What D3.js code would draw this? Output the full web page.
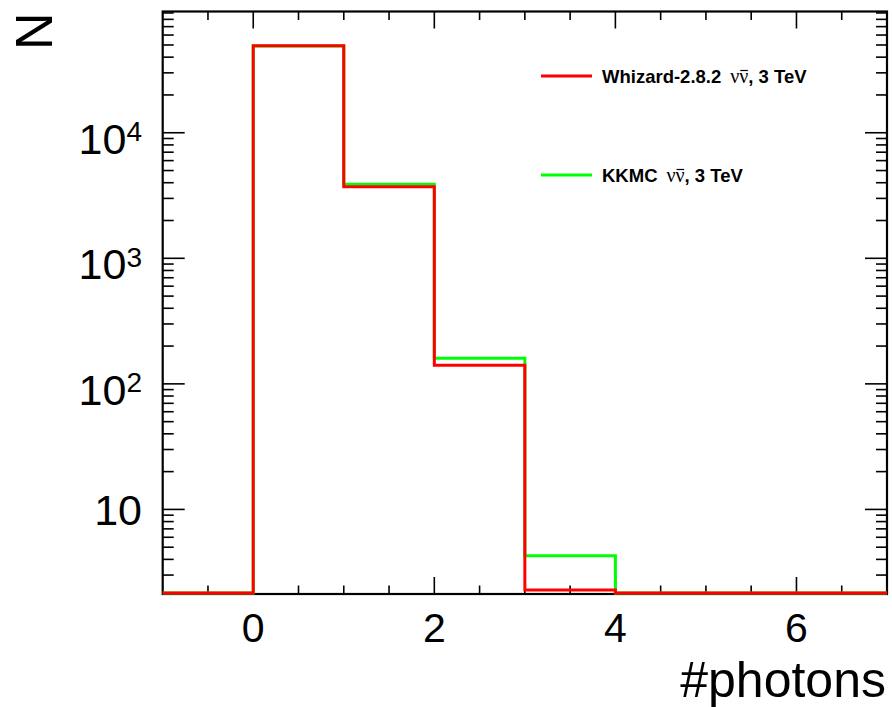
<!DOCTYPE html>
<html>
<head>
<meta charset="utf-8">
<script src="https://cdn.jsdelivr.net/npm/d3@7"></script>
<style>
  html, body { margin: 0; padding: 0; background: #fff; }
  svg { display: block; }
</style>
</head>
<body>
<svg id="chart" width="892" height="707"></svg>
<script>
// Photon multiplicity histograms (bin edges and contents per generator)
const binEdges = [-1, 0, 1, 2, 3, 4, 5, 6, 7];
const whizardCounts = [0, 49300, 3715, 141, 2.28, 0, 0, 0];
const kkmcCounts = [0, 49100, 3882, 160, 4.27, 0, 0, 0];

const xMajorTicks = [0, 2, 4, 6];
const xTickLabels = ["0", "2", "4", "6"];
const yMajorTicks = [10, 100, 1000, 10000];
const yTickBases = ["10", "10", "10", "10"];
const yTickExponents = ["", "2", "3", "4"];

const xDomain = [-1, 7];
const yDomain = [2.12, 92400];

const seriesNames = ["Whizard-2.8.2", "KKMC"];
const seriesColors = ["#ff0000", "#00ff00"];

const frame = { left: 162.7, right: 887, top: 11.5, bottom: 594 };
const font = "'Liberation Sans', Arial, Helvetica, sans-serif";

const svg = d3.select("#chart");

const x = d3.scaleLinear().domain(xDomain).range([frame.left, frame.right]);
const y = d3.scaleLog().domain(yDomain).range([frame.bottom, frame.top]);

// minor tick positions
const xMinor = d3.range(-1, 7.001, 0.5).filter(v => !xMajorTicks.includes(v) && v > xDomain[0] && v < xDomain[1]);
const yMinor = [];
[1, 10, 100, 1000, 10000].forEach(d => {
  for (let k = 2; k <= 9; k++) {
    const v = d * k;
    if (v > yDomain[0] && v < yDomain[1]) yMinor.push(v);
  }
});

const g = svg.append("g");

// tick marks on all four sides, pointing inwards
const tickColor = "#000";
function vTick(xv, len, fromBottom) {
  const px = x(xv);
  g.append("line")
    .attr("x1", px).attr("x2", px)
    .attr("y1", fromBottom ? frame.bottom : frame.top)
    .attr("y2", fromBottom ? frame.bottom - len : frame.top + len)
    .attr("stroke", tickColor).attr("stroke-width", 1.6);
}
function hTick(yv, len, fromLeft) {
  const py = y(yv);
  g.append("line")
    .attr("y1", py).attr("y2", py)
    .attr("x1", fromLeft ? frame.left : frame.right)
    .attr("x2", fromLeft ? frame.left + len : frame.right - len)
    .attr("stroke", tickColor).attr("stroke-width", 1.6);
}
xMajorTicks.forEach(v => { vTick(v, 17, true); vTick(v, 17, false); });
xMinor.forEach(v => { vTick(v, 8.5, true); vTick(v, 8.5, false); });
yMajorTicks.forEach(v => { hTick(v, 22, true); hTick(v, 22, false); });
yMinor.forEach(v => { hTick(v, 11, true); hTick(v, 11, false); });

// frame
g.append("rect")
  .attr("x", frame.left).attr("y", frame.top)
  .attr("width", frame.right - frame.left)
  .attr("height", frame.bottom - frame.top)
  .attr("fill", "none").attr("stroke", "#000").attr("stroke-width", 2.2);

// x tick labels
g.selectAll("text.xlab").data(xMajorTicks).enter().append("text")
  .attr("class", "xlab")
  .attr("x", d => x(d))
  .attr("y", 642)
  .attr("text-anchor", "middle")
  .attr("font-family", font).attr("font-size", 41)
  .text((d, i) => xTickLabels[i]);

// y tick labels (powers of ten)
yMajorTicks.forEach((v, i) => {
  const py = y(v);
  const t = g.append("text")
    .attr("x", 142)
    .attr("text-anchor", "end")
    .attr("font-family", font);
  if (yTickExponents[i] === "") {
    t.attr("y", py + 16).attr("font-size", 43).text(yTickBases[i]);
  } else {
    t.attr("y", py + 21);
    t.append("tspan").attr("font-size", 43).text(yTickBases[i]);
    t.append("tspan").attr("font-size", 28).attr("dy", -12.5).text(yTickExponents[i]);
  }
});

// axis titles
g.append("text")
  .attr("x", 886).attr("y", 697)
  .attr("text-anchor", "end")
  .attr("font-family", font).attr("font-size", 50)
  .text("#photons");

g.append("text")
  .attr("transform", "translate(51.5,12.5) rotate(-90)")
  .attr("text-anchor", "end")
  .attr("font-family", font).attr("font-size", 52)
  .text("N");

// histogram outlines
function stepPath(counts) {
  const pts = [];
  counts.forEach((c, i) => {
    const v = Math.max(c, yDomain[0]);
    pts.push([x(binEdges[i]), y(v)]);
    pts.push([x(binEdges[i + 1]), y(v)]);
  });
  // keep zero-content bins just above the lower frame edge
  return d3.line()(pts.map(p => [p[0], Math.min(p[1], frame.bottom - 1)]));
}

const seriesCounts = [whizardCounts, kkmcCounts];
[1, 0].forEach(i => {
  g.append("path")
    .attr("d", stepPath(seriesCounts[i]))
    .attr("fill", "none")
    .attr("stroke", seriesColors[i])
    .attr("stroke-width", 3);
});

// legend
const legendY = [76, 175];
const serif = "'Liberation Serif', 'DejaVu Serif', serif";
seriesNames.forEach((name, i) => {
  const baseY = legendY[i] + 7;
  g.append("line")
    .attr("x1", 541).attr("x2", 592)
    .attr("y1", legendY[i]).attr("y2", legendY[i])
    .attr("stroke", seriesColors[i]).attr("stroke-width", 3);
  const t = g.append("text")
    .attr("x", 602).attr("y", baseY)
    .attr("font-family", font).attr("font-weight", "bold").attr("font-size", 18.5);
  t.append("tspan").text(name);
  t.append("tspan").attr("dx", 9).attr("font-family", serif)
    .attr("font-weight", "normal").attr("font-size", 20).text("\u03BD\u03BD");
  t.append("tspan").text(", 3 TeV");
  // bar over the antineutrino symbol
  const node = t.node();
  const idx = name.length + 1;
  const s = node.getStartPositionOfChar(idx).x;
  const e = node.getEndPositionOfChar(idx).x;
  g.append("line")
    .attr("x1", s + 1).attr("x2", e - 0.5)
    .attr("y1", baseY - 12.5).attr("y2", baseY - 12.5)
    .attr("stroke", "#000").attr("stroke-width", 1.2);
});
</script>
</body>
</html>
